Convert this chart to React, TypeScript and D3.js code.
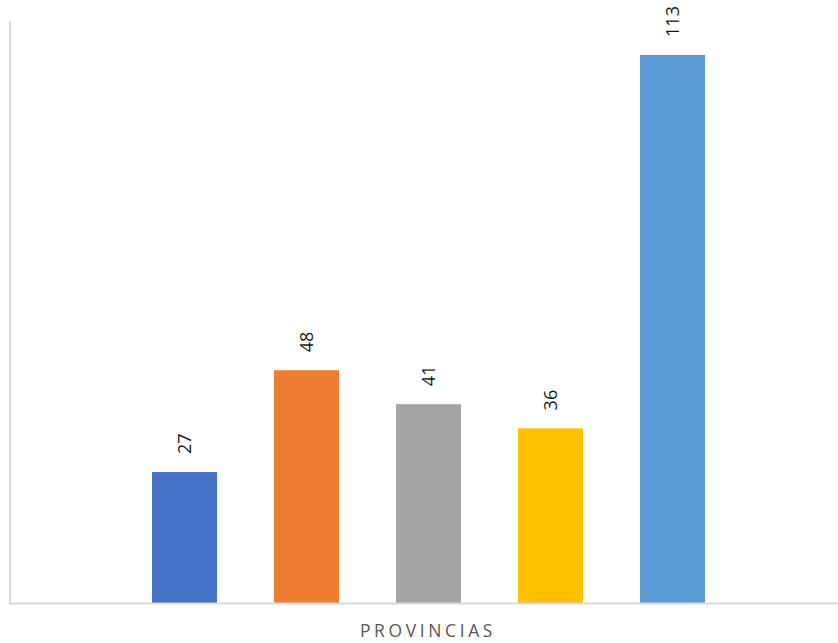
import React from "react";
import * as d3 from "d3";

// Provinces and their counts
const provinces = ["P1", "P2", "P3", "P4", "P5"];
const counts = [27, 48, 41, 36, 113];
const colors = ["#4472C4", "#ED7D31", "#A5A5A5", "#FFC000", "#5B9BD5"];
const axisTitle = "PROVINCIAS";
const yMax = 120;

const W = 838;
const H = 643;

export default function App() {
  const plotLeft = 10;
  const plotRight = 847;
  const plotTop = 21;
  const plotBottom = 603;

  const x = d3
    .scaleBand<string>()
    .domain(provinces)
    .range([plotLeft, plotRight])
    .paddingInner(0.467)
    .paddingOuter(1.164);

  const y = d3.scaleLinear().domain([0, yMax]).range([plotBottom, plotTop]);

  const data = provinces.map((p, i) => ({ p, v: counts[i], c: colors[i] }));

  return (
    <svg
      width={W}
      height={H}
      style={{ position: "absolute", left: 0, top: 0, background: "#fff" }}
    >
      {data.map((d) => {
        const bx = x(d.p)!;
        const cx = bx + x.bandwidth() / 2;
        const ty = y(d.v);
        return (
          <g key={d.p}>
            <rect
              x={bx}
              y={ty}
              width={x.bandwidth()}
              height={plotBottom - ty}
              fill={d.c}
            />
            <text
              transform={`translate(${cx},${ty - 18}) rotate(-90)`}
              dy="0.36em"
              textAnchor="start"
              fontFamily="'Open Sans', sans-serif"
              fontSize={18}
              fill="#1a1a1a"
            >
              {d.v}
            </text>
          </g>
        );
      })}
      <line
        x1={plotLeft}
        x2={plotLeft}
        y1={plotTop}
        y2={plotBottom + 1}
        stroke="#d9d9d9"
        strokeWidth={2}
      />
      <line
        x1={plotLeft - 1}
        x2={W}
        y1={plotBottom + 0.5}
        y2={plotBottom + 0.5}
        stroke="#d9d9d9"
        strokeWidth={2}
      />
      <text
        x={(plotLeft + W) / 2 + 4}
        y={637}
        textAnchor="middle"
        fontFamily="'Open Sans', sans-serif"
        fontSize={17.5}
        letterSpacing={3.6}
        fill="#595959"
      >
        {axisTitle}
      </text>
    </svg>
  );
}
